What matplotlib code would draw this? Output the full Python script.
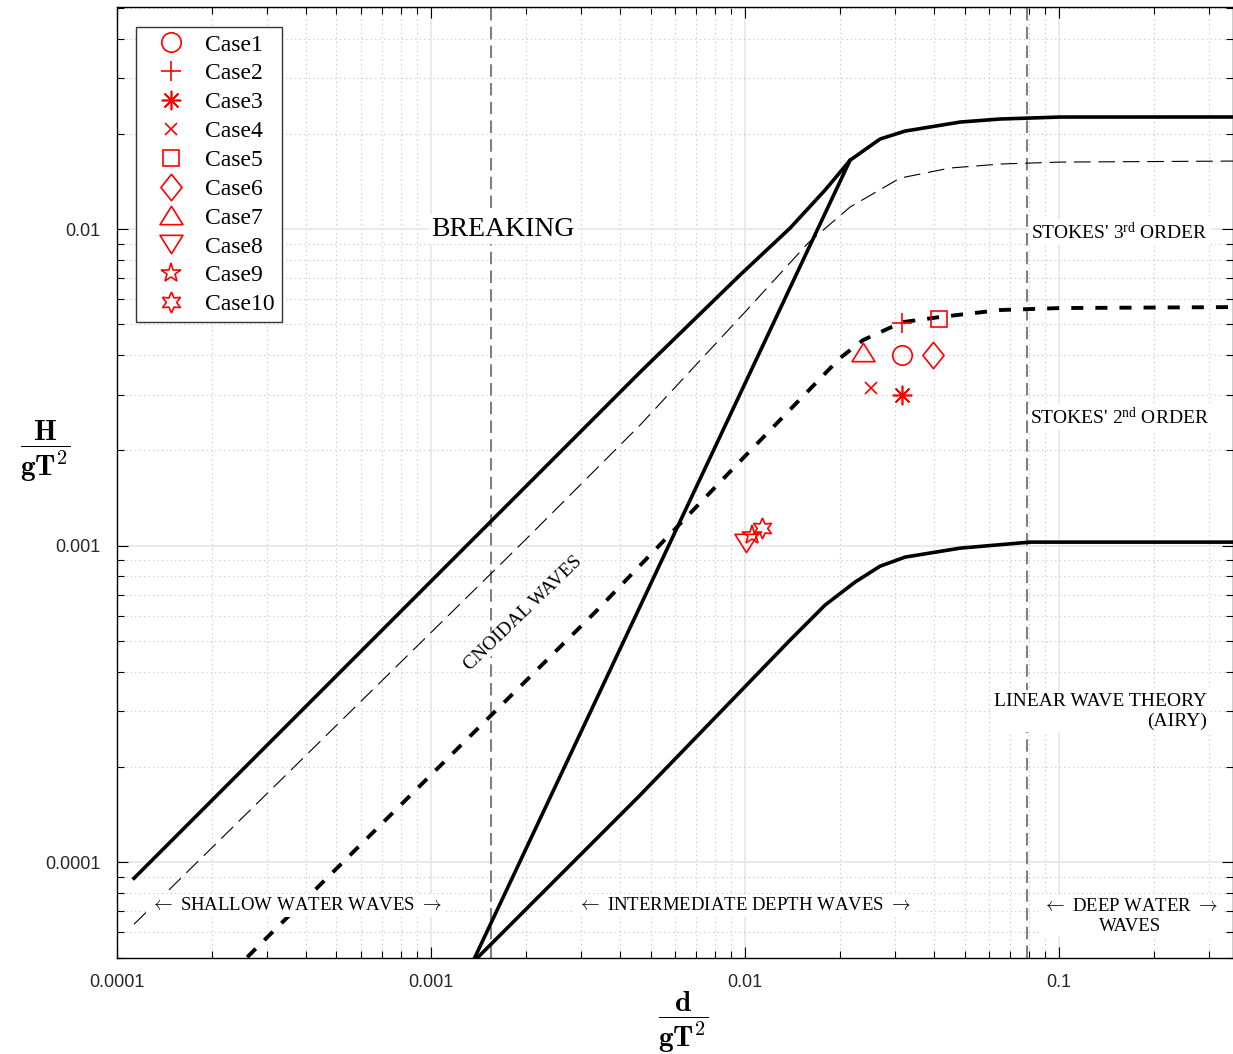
import matplotlib
matplotlib.use('Agg')
import matplotlib.pyplot as plt
from matplotlib.ticker import FixedLocator, NullFormatter, LogLocator
from matplotlib.path import Path

plt.rcParams['font.family'] = ['Liberation Serif', 'DejaVu Serif']
plt.rcParams['mathtext.fontset'] = 'custom'
plt.rcParams['mathtext.rm'] = 'Liberation Serif'
plt.rcParams['mathtext.it'] = 'Liberation Serif:italic'
plt.rcParams['mathtext.bf'] = 'Liberation Serif:bold'

# limit curves (d/gT^2, H/gT^2)
breaking_x = [1.133e-4, 4.63e-3, 9.64e-3, 0.01391, 0.01798, 0.0216, 0.02691, 0.03233, 0.04838, 0.06488, 0.1007, 0.36]
breaking_y = [8.90e-5, 3.53e-3, 7.16e-3, 0.01007, 0.01328, 0.0165, 0.01925, 0.0204, 0.02178, 0.02227, 0.02259, 0.0226]

thin_x = [1.133e-4, 1.993e-3, 4.63e-3, 0.0100, 0.01587, 0.0216, 0.03116, 0.04496, 0.06488, 0.1007, 0.36]
thin_y = [6.37e-5, 1.041e-3, 2.403e-3, 5.47e-3, 9.03e-3, 0.01174, 0.01449, 0.01559, 0.01605, 0.01628, 0.0164]

stokes23_x = [2.291e-4, 3.379e-3, 0.0100, 0.02007, 0.02376, 0.03162, 0.04148, 0.06488, 0.1007, 0.36]
stokes23_y = [4.43e-5, 6.25e-4, 1.918e-3, 3.914e-3, 4.46e-3, 5.08e-3, 5.27e-3, 5.55e-3, 5.63e-3, 5.67e-3]

ursell_x = [1.38e-3, 0.0216]
ursell_y = [5.01e-5, 0.0165]

linear_x = [1.411e-3, 4.63e-3, 0.01391, 0.01798, 0.0224, 0.02691, 0.03233, 0.04838, 0.08087, 0.36]
linear_y = [5.01e-5, 1.628e-4, 5.03e-4, 6.49e-4, 7.67e-4, 8.61e-4, 9.2e-4, 9.82e-4, 1.026e-3, 1.026e-3]

shallow_limit = 0.00155
deep_limit = 0.079

# test cases
case_names = ['Case1', 'Case2', 'Case3', 'Case4', 'Case5',
              'Case6', 'Case7', 'Case8', 'Case9', 'Case10']
case_x = [0.0316, 0.0316, 0.0316, 0.0251, 0.0415, 0.0398, 0.0238, 0.0101, 0.0105, 0.0113]
case_y = [4.0e-3, 5.05e-3, 2.99e-3, 3.15e-3, 5.2e-3, 4.0e-3, 4.08e-3, 1.02e-3, 1.08e-3, 1.14e-3]

xticks = [1e-4, 1e-3, 1e-2, 1e-1]
xtick_labels = ['0.0001', '0.001', '0.01', '0.1']
yticks = [1e-4, 1e-3, 1e-2]
ytick_labels = ['0.0001', '0.001', '0.01']

# matlab-like markers
diamond = Path([(0, 0.5), (0.4, 0), (0, -0.5), (-0.4, 0), (0, 0.5)], closed=True)
tri_up = Path([(0, 0.8), (1, -0.8), (-1, -0.8), (0, 0.8)], closed=True)
tri_down = Path([(0, -0.8), (1, 0.8), (-1, 0.8), (0, -0.8)], closed=True)
markers = ['o', '+', (8, 2, 0), 'x', 's', diamond, tri_up, tri_down, '*', (6, 1, 0)]
sizes = [14, 14, 14, 9, 11, 19, 16.5, 16.5, 15, 15]

fig = plt.figure(figsize=(12.33, 10.54), dpi=100)
ax = fig.add_axes([117 / 1233, 1 - 957.5 / 1054, (1233 - 117) / 1233, 950.5 / 1054])
ax.set_xscale('log')
ax.set_yscale('log')
ax.set_xlim(1e-4, 0.358)
ax.set_ylim(5e-5, 0.0503)

ax.grid(True, which='major', color='#e6e6e6', linewidth=1.2, linestyle='-', zorder=0)
ax.grid(True, which='minor', color='#c4c4c4', linewidth=0.8, linestyle=(0, (1, 3)), zorder=0)
ax.set_axisbelow(True)

ax.axvline(shallow_limit, color='#808080', lw=1.5, dashes=(6, 3), zorder=2)
ax.axvline(deep_limit, color='#808080', lw=1.5, dashes=(6, 3), zorder=2)

ax.plot(breaking_x, breaking_y, color='k', lw=2.6, zorder=4)
ax.plot(thin_x, thin_y, color='k', lw=0.8, dashes=(15, 7), zorder=4)
ax.plot(stokes23_x, stokes23_y, color='k', lw=2.8, dashes=(3.1, 3.1), zorder=4)
ax.plot(ursell_x, ursell_y, color='k', lw=2.6, zorder=4)
ax.plot(linear_x, linear_y, color='k', lw=2.6, zorder=4)

for name, x, y, m, s in zip(case_names, case_x, case_y, markers, sizes):
    ax.plot([x], [y], linestyle='none', marker=m, markersize=s, color='r',
            markerfacecolor='none', markeredgecolor='r', markeredgewidth=1.2,
            label=name, zorder=6)

box = dict(facecolor='white', edgecolor='none', pad=2)
fs = 14
fs_bottom = 13.5
ax.text(1.696e-3, 0.01, 'BREAKING', fontsize=20, ha='center', va='center', bbox=box, zorder=5)
ax.text(0.156, 9.78e-3, "STOKES' 3$^{\\mathrm{rd}}$ ORDER", fontsize=fs, ha='center',
        va='center', bbox=box, zorder=1.5)
ax.text(0.156, 2.547e-3, "STOKES' 2$^{\\mathrm{nd}}$ ORDER", fontsize=fs, ha='center',
        va='center', bbox=box, zorder=1.5)
ax.text(0.296, 3.0e-4, 'LINEAR WAVE THEORY\n(AIRY)', fontsize=fs, ha='right',
        va='center', multialignment='right', bbox=box, zorder=5)
ax.text(1.963e-3, 6.12e-4, 'CNOIDAL WAVES', fontsize=fs, ha='center', va='center',
        rotation=44, rotation_mode='anchor',
        bbox=dict(facecolor='white', edgecolor='none', pad=0.3), zorder=3)
ax.text(3.715e-4, 7.31e-5, r'$\leftarrow$ SHALLOW WATER WAVES $\rightarrow$', fontsize=fs_bottom,
        ha='center', va='center', bbox=box, zorder=5, math_fontfamily='cm')
ax.text(9.93e-3, 7.31e-5, r'$\leftarrow$ INTERMEDIATE DEPTH WAVES $\rightarrow$', fontsize=fs_bottom,
        ha='center', va='center', bbox=box, zorder=5, math_fontfamily='cm')
ax.text(0.1683, 6.75e-5, '$\\leftarrow$ DEEP WATER $\\rightarrow$\nWAVES', fontsize=fs_bottom,
        ha='center', va='center', multialignment='center', bbox=box, zorder=5,
        math_fontfamily='cm')

ax.xaxis.set_major_locator(FixedLocator(xticks))
ax.set_xticklabels(xtick_labels)
ax.yaxis.set_major_locator(FixedLocator(yticks))
ax.set_yticklabels(ytick_labels)
ax.xaxis.set_minor_locator(LogLocator(base=10, subs=range(2, 10), numticks=20))
ax.yaxis.set_minor_locator(LogLocator(base=10, subs=range(2, 10), numticks=20))
ax.xaxis.set_minor_formatter(NullFormatter())
ax.yaxis.set_minor_formatter(NullFormatter())
ax.tick_params(which='both', direction='in', top=True, right=True, colors='k')
ax.tick_params(which='major', length=8, width=0.8, labelsize=13, pad=12)
ax.tick_params(which='minor', length=5, width=0.8)
for lab in ax.get_xticklabels() + ax.get_yticklabels():
    lab.set_family('Liberation Sans')
    lab.set_color('#262626')
for sp in ax.spines.values():
    sp.set_linewidth(1.0)

leg = ax.legend(loc='upper left', bbox_to_anchor=((136 - 117) / 1116, 1 - 20 / 950.5),
                borderaxespad=0, fontsize=17, numpoints=1, handlelength=2.36,
                handletextpad=0.28, labelspacing=0.31, borderpad=0.3, fancybox=False,
                framealpha=1, edgecolor='#333333')
leg.get_frame().set_linewidth(1.0)
leg.set_zorder(7)

fig.text(45 / 1233, 1 - 452 / 1054, r'$\dfrac{\mathbf{H}}{\mathbf{gT^{2}}}$', fontsize=21,
         ha='center', va='center', math_fontfamily='cm')
fig.text(683 / 1233, 1 - 1023 / 1054, r'$\dfrac{\mathbf{d}}{\mathbf{gT^{2}}}$', fontsize=21,
         ha='center', va='center', math_fontfamily='cm')

fig.savefig('out.png', dpi=100)
